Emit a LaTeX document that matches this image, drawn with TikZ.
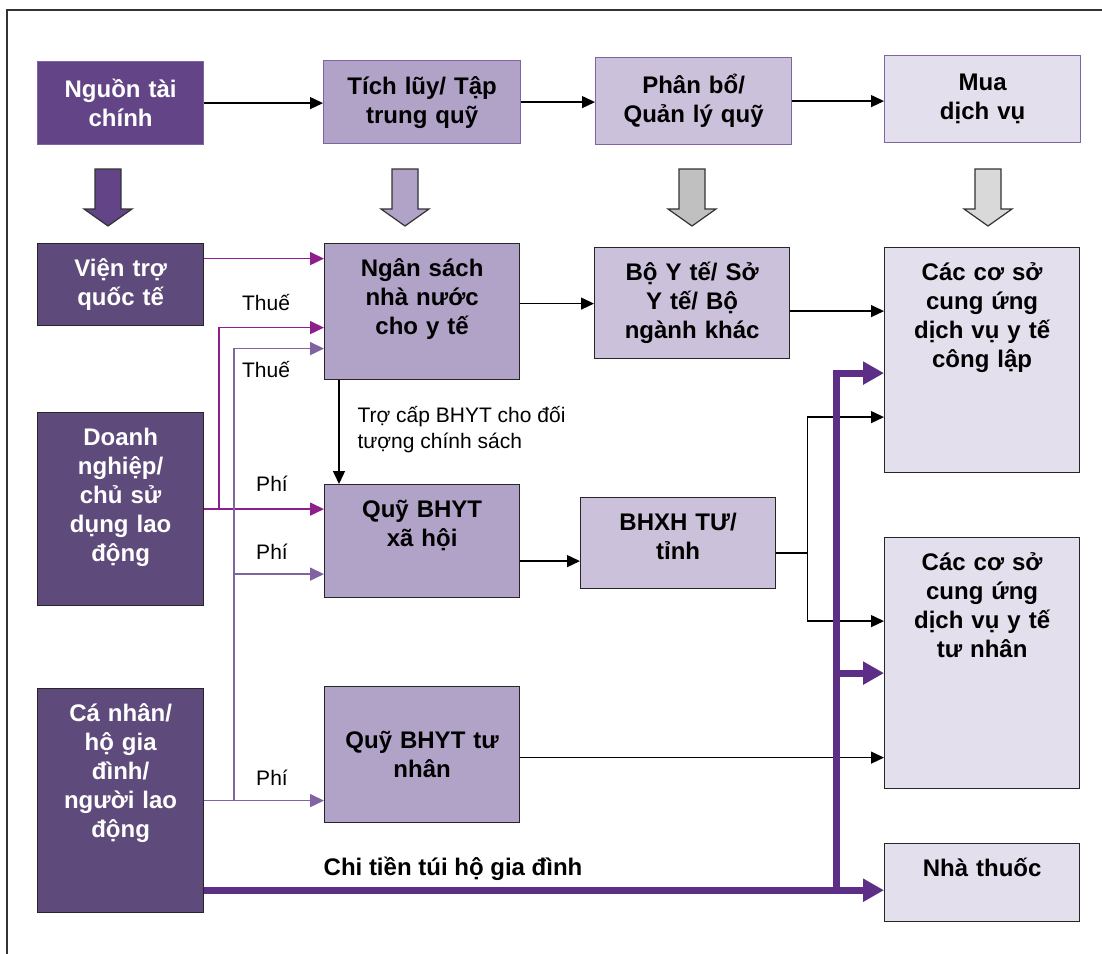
\documentclass[tikz,border=0pt]{standalone}
\usepackage{fontspec}
\setmainfont{Liberation Sans}
\usetikzlibrary{arrows.meta}

\definecolor{nguoncol}{HTML}{634587}
\definecolor{darkcol}{HTML}{5F4A7C}
\definecolor{lilac}{HTML}{B1A2C8}
\definecolor{lilacl}{HTML}{CCC1DA}
\definecolor{lilacxl}{HTML}{E4DFEC}
\definecolor{edgecol}{HTML}{8064A2}
\definecolor{magcol}{HTML}{8E1E8C}
\definecolor{tuicol}{HTML}{5C2E86}
\definecolor{greyA}{HTML}{C0C0C0}
\definecolor{greyB}{HTML}{D9D9D9}

\tikzset{
  topbox/.style={draw=edgecol, line width=1.2pt, inner sep=0pt, align=center,
    anchor=north west, font=\bfseries\fontsize{24}{29}\selectfont},
  fundbox/.style={draw=black!85, line width=1.2pt, inner sep=0pt, align=center,
    anchor=north west, text height=33pt, font=\bfseries\fontsize{24}{29}\selectfont},
  lbl/.style={font=\fontsize{21}{26}\selectfont},
  blk/.style={line width=1.3pt, -{Triangle[length=13pt,width=12pt]}},
  mag/.style={line width=1.6pt, color=magcol, -{Triangle[length=14pt,width=13pt]}},
  lav/.style={line width=1.6pt, color=edgecol, -{Triangle[length=14pt,width=13pt]}},
  tui/.style={line width=7pt, color=tuicol, -{Triangle[length=21pt,width=22pt]}}
}

\begin{document}
\begin{tikzpicture}[x=1pt, y=-1pt]
\useasboundingbox (0,0) rectangle (1102,953);
\draw[line width=1.5pt, black!80] (7,10) rectangle (1125,975);

% stages
\node[topbox, fill=nguoncol, text=white, text width=166pt, minimum height=83pt] (nguon) at (37,61) {Nguồn tài\\chính};
\node[topbox, fill=lilac, text width=197pt, minimum height=83pt] (tichluy) at (323,60) {Tích lũy/ Tập\\trung quỹ};
\node[topbox, fill=lilacl, text width=196pt, minimum height=87pt] (phanbo) at (595,57) {Phân bổ/\\Quản lý quỹ};
\node[topbox, fill=lilacxl, text width=196pt, minimum height=87pt] (mua) at (884,55) {Mua\\dịch vụ};

\draw[blk] (nguon.east) -- (nguon.east -| tichluy.west);
\draw[blk] (tichluy.east) -- (tichluy.east -| phanbo.west);
\draw[blk] (phanbo.east) -- (phanbo.east -| mua.west);

% block arrows
\foreach \cx/\col in {108/nguoncol, 405/lilac, 692/greyA, 988/greyB}
  \draw[line width=1.2pt, draw=black!80, fill=\col] (\cx-13,169) -- (\cx+13,169) -- (\cx+13,209)
    -- (\cx+24,209) -- (\cx,226) -- (\cx-24,209) -- (\cx-13,209) -- cycle;

% sources, funds, providers
\node[fundbox, fill=darkcol, text=white, text width=166pt, text depth=49pt] (vientro) at (37,243) {Viện trợ\\quốc tế};
\node[fundbox, fill=lilac, text width=195pt, text depth=103pt] (ngansach) at (324,243) {Ngân sách\\nhà nước\\cho y tế};
\node[fundbox, fill=lilacl, text width=195pt, text depth=78pt] (boyte) at (594,247) {Bộ Y tế/ Sở\\Y tế/ Bộ\\ngành khác};
\node[fundbox, fill=lilacxl, text width=195pt, text depth=192pt] (conglap) at (884,247) {Các cơ sở\\cung ứng\\dịch vụ y tế\\công lập};
\node[fundbox, fill=darkcol, text=white, text width=166pt, text depth=160pt] (doanhnghiep) at (37,412) {Doanh\\nghiệp/\\chủ sử\\dụng lao\\động};
\node[fundbox, fill=lilac, text width=195pt, text depth=80pt] (quyxh) at (324,484) {Quỹ BHYT\\xã hội};
\node[fundbox, fill=lilacl, text width=195pt, text depth=58pt] (bhxh) at (580,497) {BHXH TƯ/\\tỉnh};
\node[fundbox, fill=lilacxl, text width=195pt, text depth=218pt] (tunhan) at (884,537) {Các cơ sở\\cung ứng\\dịch vụ y tế\\tư nhân};
\node[fundbox, fill=darkcol, text=white, text width=166pt, text depth=191pt] (canhan) at (37,688) {Cá nhân/\\hộ gia\\đình/\\người lao\\động};
\node[fundbox, fill=lilac, text width=195pt, text height=62pt, text depth=74pt] (quytn) at (324,686) {Quỹ BHYT tư\\nhân};
\node[fundbox, fill=lilacxl, text width=195pt, text depth=45pt] (nhathuoc) at (884,843) {Nhà thuốc};

% labels
\node[lbl] (thue1) at (266,303) {Thuế};
\node[lbl] (thue2) at (266,370) {Thuế};
\node[lbl] (phi1) at (272,484) {Phí};
\node[lbl] (phi2) at (272,552) {Phí};
\node[lbl] (phi3) at (272,778) {Phí};
\node[lbl, align=left, anchor=west] (trocap) at (354,430) {Trợ cấp BHYT cho đối\\tượng chính sách};
\node[font=\bfseries\fontsize{24}{29}\selectfont] (chitien) at (453,869) {Chi tiền túi hộ gia đình};

% junctions
\coordinate (jdn) at ([xshift=15pt]doanhnghiep.east);
\coordinate (jcn) at ([xshift=30pt]canhan.east);
\coordinate (jbh) at ([xshift=31pt,yshift=-10pt]bhxh.east);
\coordinate (jtui) at (836,889);

% tax and premiums
\draw[mag] ([yshift=26pt]vientro.east) -- ([yshift=26pt]vientro.east -| ngansach.west);
\draw[mag] (doanhnghiep.east) -- (doanhnghiep.east -| quyxh.west);
\draw[mag] (jdn) |- ([yshift=-16pt]ngansach.west);
\draw[lav] (canhan.east) -- (canhan.east -| quytn.west);
\draw[lav] (jcn) |- ([yshift=-37pt]ngansach.west);
\draw[lav] ([yshift=-33pt]quyxh.west -| jcn) -- ([yshift=-33pt]quyxh.west);

% fund flows
\draw[blk] ([xshift=15pt]ngansach.south west) -- ([xshift=15pt]ngansach.south west |- quyxh.north);
\draw[blk] ([yshift=8pt]ngansach.east) -- ([yshift=8pt]ngansach.east -| boyte.west);
\draw[blk] ([yshift=-8pt]boyte.east) -- ([yshift=-8pt]boyte.east -| conglap.west);
\draw[blk] ([yshift=-20pt]quyxh.east) -- ([yshift=-20pt]quyxh.east -| bhxh.west);
\draw[line width=1.3pt] ([yshift=-10pt]bhxh.east) -- (jbh);
\draw[blk] (jbh) |- ([yshift=-57pt]conglap.west);
\draw[blk] (jbh) |- ([yshift=42pt]tunhan.west);
\draw[blk] ([yshift=-3pt]quytn.east) -- ([yshift=-3pt]quytn.east -| tunhan.west);

% out of pocket
\draw[tui] ([yshift=23pt]canhan.south east) -- ([yshift=23pt]canhan.south east -| nhathuoc.west);
\draw[tui] ([yshift=-3.5pt]jtui) |- ([yshift=-13pt]conglap.west);
\draw[tui] ([yshift=-10pt]tunhan.west -| jtui) -- ([yshift=-10pt]tunhan.west);
\end{tikzpicture}
\end{document}
